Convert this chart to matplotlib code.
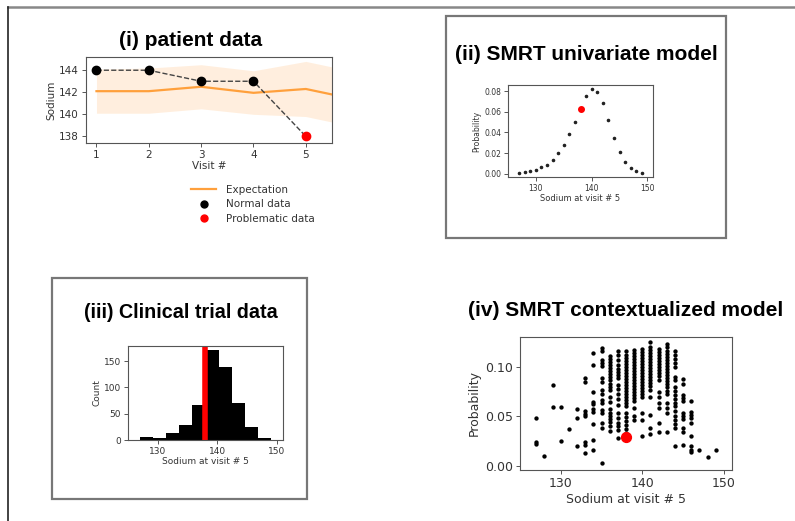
import matplotlib
matplotlib.use("Agg")
import matplotlib.pyplot as plt
from matplotlib.patches import Rectangle
from matplotlib.lines import Line2D

# (i) patient data
visits = [1, 2, 3, 4, 5]
sodium = [144, 144, 143, 143, 138]
exp_visits = [1, 2, 3, 4, 5, 6]
exp_mean = [142.1, 142.1, 142.5, 141.95, 142.3, 141.3]
exp_low = [140.1, 140.1, 140.5, 140.0, 139.8, 138.8]
exp_high = [144.1, 144.2, 144.5, 143.95, 144.8, 143.8]

# (ii) univariate model
uni_sodium = [127, 128, 129, 130, 131, 132, 133, 134, 135, 136, 137, 138,
              139, 140, 141, 142, 143, 144, 145, 146, 147, 148, 149]
uni_prob = [0.001, 0.0016, 0.0026, 0.0042, 0.0064, 0.009, 0.0138, 0.020, 0.028,
            0.0384, 0.0502, 0.063, 0.0749, 0.0816, 0.0794, 0.0688, 0.052,
            0.0346, 0.0208, 0.0112, 0.0058, 0.0026, 0.001]

# (iii) clinical trial histogram
bin_edges = [127, 129.2, 131.4, 133.6, 135.8, 138, 140.2, 142.4, 144.6, 146.8, 149]
counts = [6, 3, 14, 28, 66, 170, 139, 71, 24, 3]

# (iv) contextualized model: probabilities at each sodium level
ctx_levels = [127, 128, 129, 130, 131, 132, 133, 134, 135, 136, 137, 138,
              139, 140, 141, 142, 143, 144, 145, 146, 147, 148, 149]
ctx_probs = [
    [0.048, 0.024, 0.022],
    [0.010],
    [0.082, 0.059],
    [0.059, 0.025],
    [0.037],
    [0.057, 0.048, 0.020],
    [0.089, 0.085, 0.055, 0.052, 0.050, 0.024, 0.021, 0.013],
    [0.114, 0.102, 0.075, 0.065, 0.062, 0.057, 0.054, 0.042, 0.026, 0.016],
    [0.119, 0.116, 0.107, 0.104, 0.101, 0.089, 0.085, 0.077, 0.073, 0.067,
     0.063, 0.056, 0.053, 0.043, 0.038, 0.003],
    [0.111, 0.108, 0.105, 0.102, 0.099, 0.096, 0.093, 0.090, 0.087, 0.083,
     0.080, 0.077, 0.070, 0.065, 0.057, 0.053, 0.050, 0.047, 0.044, 0.040, 0.035],
    [0.116, 0.112, 0.107, 0.102, 0.098, 0.095, 0.092, 0.089, 0.082, 0.078,
     0.073, 0.068, 0.061, 0.053, 0.048, 0.043, 0.040, 0.036, 0.028],
    [0.116, 0.112, 0.109, 0.106, 0.103, 0.100, 0.097, 0.094, 0.091, 0.088,
     0.085, 0.082, 0.079, 0.076, 0.073, 0.070, 0.067, 0.064, 0.060, 0.053,
     0.049, 0.045, 0.041, 0.037, 0.033],
    [0.117, 0.114, 0.111, 0.108, 0.105, 0.102, 0.099, 0.096, 0.093, 0.090,
     0.087, 0.084, 0.081, 0.078, 0.075, 0.072, 0.069, 0.066, 0.058, 0.050,
     0.046],
    [0.118, 0.115, 0.112, 0.109, 0.106, 0.103, 0.100, 0.097, 0.094, 0.091,
     0.088, 0.085, 0.082, 0.079, 0.076, 0.073, 0.070, 0.053, 0.046, 0.030],
    [0.125, 0.120, 0.117, 0.114, 0.111, 0.108, 0.105, 0.102, 0.099, 0.096,
     0.093, 0.090, 0.087, 0.084, 0.081, 0.077, 0.070, 0.051, 0.038, 0.032],
    [0.118, 0.115, 0.112, 0.109, 0.106, 0.103, 0.100, 0.097, 0.094, 0.091,
     0.087, 0.075, 0.070, 0.063, 0.058, 0.043, 0.034],
    [0.123, 0.120, 0.116, 0.113, 0.110, 0.107, 0.104, 0.101, 0.098, 0.095,
     0.092, 0.089, 0.086, 0.083, 0.080, 0.076, 0.073, 0.063, 0.058, 0.053,
     0.034],
    [0.116, 0.112, 0.108, 0.104, 0.100, 0.090, 0.087, 0.080, 0.076, 0.072,
     0.068, 0.064, 0.060, 0.055, 0.050, 0.046, 0.042, 0.038, 0.020],
    [0.088, 0.083, 0.072, 0.069, 0.066, 0.053, 0.050, 0.047, 0.038, 0.034, 0.021],
    [0.066, 0.054, 0.051, 0.048, 0.043, 0.030, 0.020, 0.016, 0.014],
    [0.016],
    [0.0095],
    [0.0165],
]
flag_sodium = 138
flag_prob_uni = 0.063
flag_prob_ctx = 0.029

ORANGE = "#ffa03c"
TXT = "#333333"
EDGE = "#555555"
TITLE_FONT = dict(family="Liberation Sans", weight="bold", color="black")

fig = plt.figure(figsize=(7.95, 5.21), dpi=100)
W, H = 795.0, 521.0


def axes_px(left, top, right, bottom):
    return fig.add_axes([left / W, 1 - bottom / H, (right - left) / W, (bottom - top) / H])


def style(ax, fs):
    for s in ax.spines.values():
        s.set_color(EDGE)
        s.set_linewidth(0.8)
    ax.tick_params(labelsize=fs, colors=EDGE, labelcolor=TXT, length=3, width=0.7, pad=2)


# outer frame lines and panel boxes
fig.add_artist(Line2D([8 / W, 1.0], [1 - 6.5 / H, 1 - 6.5 / H], transform=fig.transFigure,
                      color="#888888", lw=1.8))
fig.add_artist(Line2D([7.5 / W, 7.5 / W], [0, 1 - 6.5 / H], transform=fig.transFigure,
                      color="#222222", lw=1.2))
fig.add_artist(Rectangle((446 / W, 1 - 238 / H), 280 / W, 222 / H, transform=fig.transFigure,
                         fill=False, edgecolor="#777777", lw=1.6))
fig.add_artist(Rectangle((52 / W, 1 - 499 / H), 255 / W, 221 / H, transform=fig.transFigure,
                         fill=False, edgecolor="#777777", lw=1.6))

# (i) patient data
ax1 = axes_px(86, 57, 332, 143)
ax1.fill_between(exp_visits, exp_low, exp_high, color=ORANGE, alpha=0.17, lw=0)
ax1.plot(exp_visits, exp_mean, color=ORANGE, lw=1.6)
ax1.plot(visits, sodium, ls="--", color="#444444", lw=1.0)
ax1.plot(visits[:-1], sodium[:-1], "o", color="black", ms=6)
ax1.plot(visits[-1:], sodium[-1:], "o", color="red", ms=6)
ax1.set_xlim(0.8, 5.5)
ax1.set_ylim(137.4, 145.2)
ax1.set_xticks(visits)
ax1.set_yticks([138, 140, 142, 144])
ax1.set_xlabel("Visit #", fontsize=7.5, color=TXT, labelpad=1)
ax1.set_ylabel("Sodium", fontsize=7.5, color=TXT, labelpad=2)
style(ax1, 7.5)
fig.text(191 / W, 1 - 40 / H, "(i) patient data", ha="center", va="center", fontsize=15, **TITLE_FONT)

handles = [Line2D([], [], color=ORANGE, lw=1.6),
           Line2D([], [], ls="", marker="o", color="black", ms=5),
           Line2D([], [], ls="", marker="o", color="red", ms=5)]
leg = fig.legend(handles, ["Expectation", "Normal data", "Problematic data"],
                 loc="upper left", bbox_to_anchor=(191 / W, 1 - 185 / H), frameon=False,
                 fontsize=7.5, handlelength=2.4, handletextpad=1.0, labelspacing=0.42,
                 borderpad=0, borderaxespad=0)
for t in leg.get_texts():
    t.set_color(TXT)

# (ii) SMRT univariate model
ax2 = axes_px(508, 85, 653, 177)
ax2.scatter(uni_sodium, uni_prob, s=2.5, color="#222222")
ax2.scatter([flag_sodium], [flag_prob_uni], s=16, color="red", zorder=3)
ax2.set_xlim(125, 151)
ax2.set_ylim(-0.003, 0.0858)
ax2.set_xticks([130, 140, 150])
ax2.set_yticks([0.0, 0.02, 0.04, 0.06, 0.08])
ax2.set_xlabel("Sodium at visit # 5", fontsize=6, color=TXT, labelpad=1)
ax2.set_ylabel("Probability", fontsize=5.5, color=TXT, labelpad=2)
style(ax2, 5.5)
fig.text(586 / W, 1 - 55 / H, "(ii) SMRT univariate model", ha="center", va="center",
         fontsize=15, **TITLE_FONT)

# (iii) clinical trial data
ax3 = axes_px(128, 346, 283, 440)
ax3.stairs(counts, bin_edges, fill=True, color="black")
ax3.axvline(flag_sodium, color="red", lw=4)
ax3.set_xlim(125, 151)
ax3.set_ylim(0, 178.5)
ax3.set_xticks([130, 140, 150])
ax3.set_yticks([0, 50, 100, 150])
ax3.set_xlabel("Sodium at visit # 5", fontsize=6.5, color=TXT, labelpad=1)
ax3.set_ylabel("Count", fontsize=6.5, color=TXT, labelpad=2)
style(ax3, 6.5)
fig.text(181 / W, 1 - 313 / H, "(iii) Clinical trial data", ha="center", va="center",
         fontsize=14.2, **TITLE_FONT)

# (iv) SMRT contextualized model
ax4 = axes_px(520, 337, 732, 470)
for lvl, probs in zip(ctx_levels, ctx_probs):
    ax4.scatter([lvl] * len(probs), probs, s=4.5, color="black")
ax4.scatter([flag_sodium], [flag_prob_ctx], s=50, color="red", zorder=3)
ax4.set_xlim(125, 151)
ax4.set_ylim(-0.004, 0.130)
ax4.set_xticks([130, 140, 150])
ax4.set_yticks([0.0, 0.05, 0.10])
ax4.set_xlabel("Sodium at visit # 5", fontsize=9, color=TXT, labelpad=2)
ax4.set_ylabel("Probability", fontsize=9, color=TXT, labelpad=3)
style(ax4, 9)
fig.text(626 / W, 1 - 310 / H, "(iv) SMRT contextualized model", ha="center", va="center",
         fontsize=15, **TITLE_FONT)

fig.savefig("out.png", dpi=100)
